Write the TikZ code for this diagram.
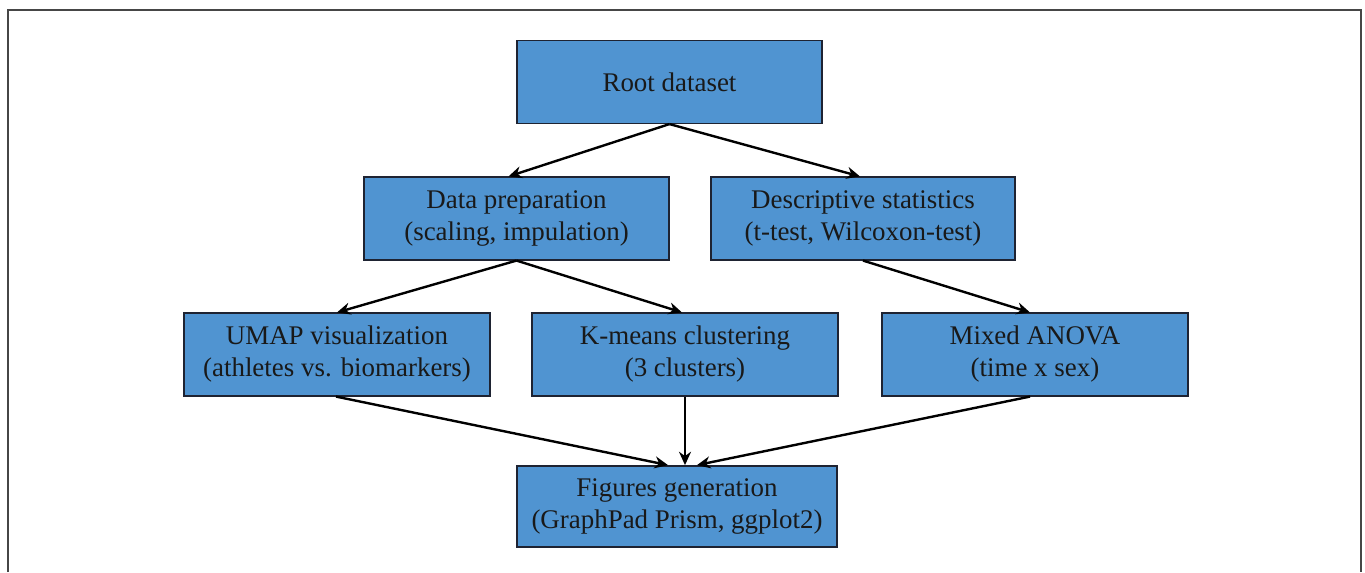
\documentclass[tikz,border=0pt]{standalone}
\usepackage{fontspec}
\setmainfont{Liberation Serif}
\usetikzlibrary{arrows.meta,calc}
\definecolor{boxblue}{RGB}{80,148,209}
\definecolor{boxedge}{RGB}{30,35,50}
\definecolor{framegray}{RGB}{70,70,70}
\begin{document}
\begin{tikzpicture}[x=0.75pt,y=-0.75pt,
  box/.style={draw=boxedge,line width=1.1pt,fill=boxblue,inner sep=0pt,
    minimum width=#1*0.75pt,minimum height=62pt,align=center,
    font=\fontsize{20.2}{24}\selectfont,text=black!90},
  box/.default=305,
  conn/.style={line width=1.8pt,-{Stealth[length=10pt,width=9pt]}}]
\useasboundingbox (0,0) rectangle (1365,572);
\draw[framegray,line width=1.5pt] (8,572) -- (8,10) -- (1361,10) -- (1361,572);
\node[box] (root) at (669.5,82) {Root dataset};
\node[box] (prep) at (516.5,218.5) {Data preparation\\(scaling, impulation)};
\node[box=304] (desc) at (863,218.5) {Descriptive statistics\\(t-test, Wilcoxon-test)};
\node[box=306] (umap) at (337,354.5) {UMAP visualization\\(athletes vs. biomarkers)};
\node[box=306] (kmeans) at (685,354.5) {K-means clustering\\(3 clusters)};
\node[box=306] (mixed) at (1035,354.5) {Mixed ANOVA\\(time x sex)};
\node[box=320,minimum height=61pt] (fig) at (677,506.5) {Figures generation\\(GraphPad Prism, ggplot2)};
\coordinate (figL) at ($(fig.north)+(-9,0)$);
\coordinate (figR) at ($(fig.north)+(20,0)$);
\draw[conn] (root.south) -- ($(prep.north)+(-8,0)$);
\draw[conn] (root.south) -- ($(desc.north)+(-3,0)$);
\draw[conn] (prep.south) -- (umap.north);
\draw[conn] (prep.south) -- ($(kmeans.north)+(-3,0)$);
\draw[conn] (desc.south) -- ($(mixed.north)+(-5,0)$);
\draw[conn] ($(umap.south)+(-1,0)$) -- (figL);
\draw[conn] (kmeans.south) -- (kmeans.south |- fig.north);
\draw[conn] ($(mixed.south)+(-5,0)$) -- (figR);
\end{tikzpicture}
\end{document}
